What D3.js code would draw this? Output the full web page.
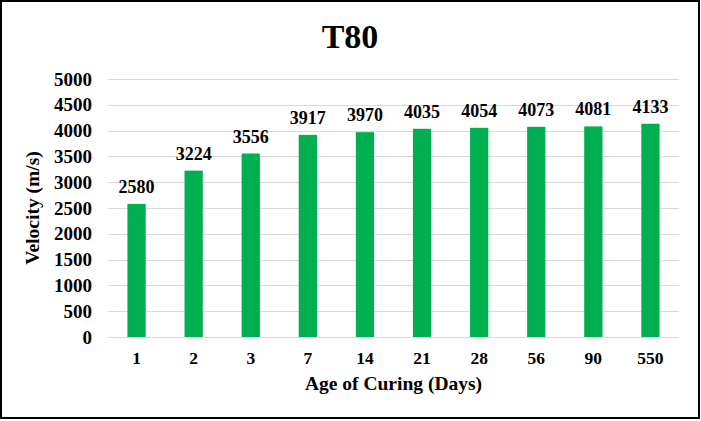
<!DOCTYPE html>
<html><head><meta charset="utf-8">
<script src="https://cdn.jsdelivr.net/npm/d3@7"></script>
<style>html,body{margin:0;padding:0;background:#fff;}svg{display:block;}</style>
</head><body>
<script>
const categories = ["1","2","3","7","14","21","28","56","90","550"];
const values = [2580,3224,3556,3917,3970,4035,4054,4073,4081,4133];
const yTicks = [0,500,1000,1500,2000,2500,3000,3500,4000,4500,5000];
const title = "T80";
const xTitle = "Age of Curing (Days)";
const yTitle = "Velocity (m/s)";

const W = 701, H = 421;
const m = {left:108, right:22, top:79, bottom:84};
const font = "'Liberation Serif','Times New Roman',serif";
const svg = d3.select("body").append("svg").attr("width",W).attr("height",H);
svg.append("rect").attr("x",1).attr("y",1).attr("width",W-3).attr("height",H-4)
  .attr("fill","#fff").attr("stroke","#000").attr("stroke-width",2);

const x = d3.scaleBand().domain(categories).range([m.left, W-m.right]).paddingInner(0.68).paddingOuter(0.34);
const y = d3.scaleLinear().domain([0,5000]).range([H-m.bottom, m.top]);

svg.append("g").selectAll("line").data(yTicks).join("line")
  .attr("x1",m.left).attr("x2",W-m.right)
  .attr("y1",d=>Math.round(y(d))+0.5).attr("y2",d=>Math.round(y(d))+0.5)
  .attr("stroke","#d9d9d9").attr("stroke-width",1);

const yAxis = svg.append("g").attr("transform",`translate(${m.left},0)`)
  .call(d3.axisLeft(y).tickValues(yTicks).tickFormat(d3.format("d")).tickSize(0).tickPadding(16));
yAxis.select(".domain").remove();
yAxis.selectAll("text").attr("font-family",font).attr("font-weight","bold").attr("font-size",19).attr("fill","#000");

const xAxis = svg.append("g").attr("transform",`translate(0,${H-m.bottom})`)
  .call(d3.axisBottom(x).tickSize(0).tickPadding(15));
xAxis.select(".domain").remove();
xAxis.selectAll("text").attr("font-family",font).attr("font-weight","bold").attr("font-size",17.5).attr("fill","#000");

svg.append("g").selectAll("rect").data(values).join("rect")
  .attr("x",(d,i)=>x(categories[i])).attr("width",x.bandwidth())
  .attr("y",d=>y(d)).attr("height",d=>y(0)-y(d)).attr("fill","#00b050");

svg.append("g").selectAll("text").data(values).join("text")
  .attr("x",(d,i)=>x(categories[i])+x.bandwidth()/2).attr("y",d=>y(d)-11)
  .attr("text-anchor","middle").attr("font-family",font).attr("font-weight","bold").attr("font-size",18)
  .text(d=>d);

svg.append("text").attr("x",350).attr("y",48).attr("text-anchor","middle")
  .attr("font-family",font).attr("font-weight","bold").attr("font-size",34).text(title);

svg.append("text").attr("x",(m.left+W-m.right)/2).attr("y",390).attr("text-anchor","middle")
  .attr("font-family",font).attr("font-weight","bold").attr("font-size",19.5).text(xTitle);

svg.append("text").attr("transform",`translate(39,${(y(0)+y(5000))/2}) rotate(-90)`).attr("text-anchor","middle")
  .attr("font-family",font).attr("font-weight","bold").attr("font-size",19.5).text(yTitle);
</script>
</body></html>
